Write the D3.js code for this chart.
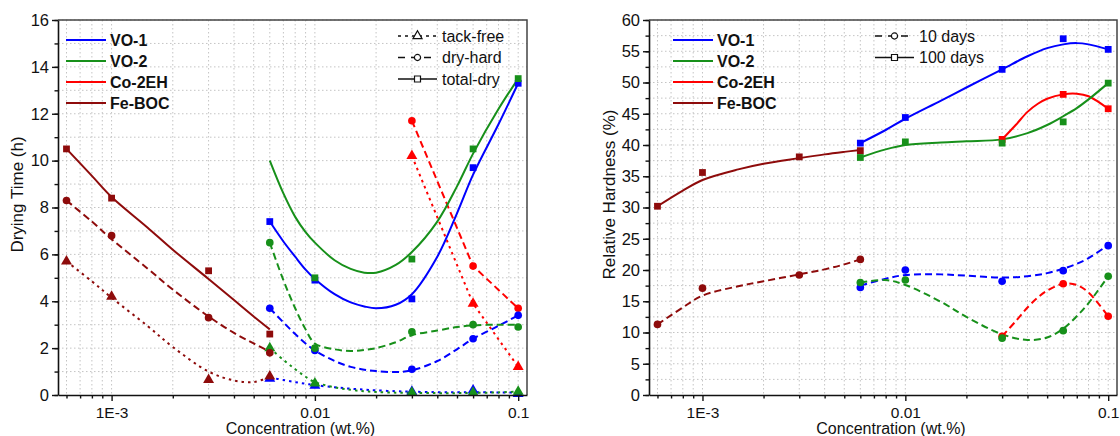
<!DOCTYPE html>
<html>
<head>
<meta charset="utf-8">
<script src="https://cdn.jsdelivr.net/npm/d3@7"></script>
<style>
  body { margin: 0; background: #fff; }
  svg { display: block; }
  text { font-family: Arial, "Liberation Sans", sans-serif; fill: #111; }
</style>
</head>
<body>
<svg id="chart" width="1120" height="436"></svg>
<script>
// ---------- data ----------
const seriesNames = ['VO-1', 'VO-2', 'Co-2EH', 'Fe-BOC'];
const xTickValues = [0.001, 0.01, 0.1];
const xTickLabels = ['1E-3', '0.01', '0.1'];

// concentrations (wt.%)
const feX = [0.0006, 0.001, 0.003, 0.006];
const voX = [0.006, 0.01, 0.03, 0.06, 0.1];
const coX = [0.03, 0.06, 0.1];

// drying time (h), measured points
const vo1Tack = [0.7, 0.4, 0.15, 0.2, 0.05];
const vo1Hard = [3.7, 1.9, 1.1, 2.4, 3.4];
const vo1Total = [7.4, 4.9, 4.1, 9.7, 13.3];
const vo2Tack = [2.0, 0.5, 0.1, 0.1, 0.15];
const vo2Hard = [6.5, 2.0, 2.7, 3.0, 2.9];
const vo2Total = [null, 5.0, 5.8, 10.5, 13.5];
const coTack = [10.2, 3.9, 1.2];
const coHard = [11.7, 5.5, 3.7];
const feTack = [5.7, 4.2, 0.65, 0.8];
const feHard = [8.3, 6.8, 3.3, 1.8];
const feTotal = [10.5, 8.4, 5.3, 2.6];

// drying time, fitted curves as drawn in the figure
const fitFeX = [0.0006, 0.0008, 0.001, 0.0015, 0.002, 0.003, 0.004, 0.005, 0.006];
const fitVoX = [0.006, 0.007, 0.008, 0.009, 0.01, 0.0125, 0.015, 0.0175, 0.02, 0.025, 0.03, 0.04, 0.05, 0.06, 0.08, 0.1];
const vo1TotalFit = [7.4, 6.55, 5.9, 5.35, 4.95, 4.3, 3.95, 3.78, 3.7, 3.85, 4.3, 5.9, 7.75, 9.4, 11.55, 13.3];
const vo2TotalFit = [10.0, 8.6, 7.6, 6.95, 6.5, 5.75, 5.38, 5.22, 5.22, 5.55, 6.1, 7.4, 8.9, 10.3, 12.2, 13.5];
const vo1HardFit = [3.7, 3.1, 2.6, 2.2, 1.9, 1.45, 1.2, 1.08, 1.02, 0.98, 1.05, 1.45, 1.95, 2.4, 2.95, 3.4];
const vo2HardFit = [6.5, 4.9, 3.7, 2.8, 2.2, 1.95, 1.88, 1.92, 2.0, 2.25, 2.55, 2.75, 2.9, 2.97, 3.0, 3.0];
const vo1TackFit = [0.75, 0.64, 0.55, 0.48, 0.42, 0.33, 0.27, 0.23, 0.2, 0.16, 0.14, 0.12, 0.12, 0.12, 0.11, 0.1];
const vo2TackFit = [2.0, 1.5, 1.1, 0.78, 0.55, 0.33, 0.22, 0.16, 0.13, 0.1, 0.09, 0.08, 0.08, 0.09, 0.11, 0.15];
const feTotalFit = [10.5, 9.35, 8.45, 7.15, 6.2, 4.95, 4.05, 3.35, 2.8];
const feHardFit = [8.3, 7.4, 6.65, 5.4, 4.5, 3.35, 2.65, 2.2, 1.85];
const feTackFit = [5.7, 4.85, 4.15, 2.95, 2.05, 1.0, 0.62, 0.55, 0.78];

// relative hardness (%), measured points
const vo1H10 = [17.2, 20.0, 18.2, 19.9, 23.9];
const vo1H100 = [40.3, 44.4, 52.1, 57.0, 55.3];
const vo2H10 = [18.0, 18.4, 9.1, 10.3, 19.0];
const vo2H100 = [38.0, 40.5, 40.3, 43.7, 49.9];
const coH10 = [9.4, 17.8, 12.6];
const coH100 = [40.9, 48.1, 45.8];
const feH10 = [11.3, 17.1, 19.2, 21.7];
const feH100 = [30.2, 35.6, 38.1, 39.1];

// relative hardness, fitted curves
const hardVoX = [0.006, 0.008, 0.01, 0.015, 0.02, 0.03, 0.04, 0.05, 0.06, 0.07, 0.08, 0.1];
const hardCoX = [0.03, 0.035, 0.04, 0.045, 0.05, 0.06, 0.07, 0.08, 0.1];
const vo1H100Fit = [40.3, 42.4, 44.2, 47.1, 49.2, 52.1, 54.2, 55.5, 56.1, 56.3, 56.1, 55.3];
const vo2H100Fit = [38.0, 39.3, 40.0, 40.4, 40.6, 40.9, 41.9, 43.2, 44.6, 45.9, 47.3, 49.9];
const vo1H10Fit = [17.5, 18.6, 19.2, 19.3, 19.1, 18.8, 19.0, 19.5, 20.2, 21.0, 21.9, 24.0];
const vo2H10Fit = [18.0, 18.4, 17.6, 14.9, 12.5, 9.7, 8.8, 9.2, 10.6, 12.6, 14.7, 19.0];
const coH100Fit = [40.9, 43.2, 45.3, 46.6, 47.4, 48.1, 48.2, 47.8, 45.8];
const coH10Fit = [9.4, 11.8, 14.0, 15.6, 16.7, 17.8, 17.6, 16.4, 12.6];
const feH100Fit = [30.2, 32.7, 34.4, 36.1, 37.0, 37.9, 38.5, 38.9, 39.2];
const feH10Fit = [11.3, 14.0, 15.9, 17.4, 18.2, 19.3, 20.1, 20.9, 21.7];

// ---------- styles ----------
const colors = { 'VO-1': '#0000ff', 'VO-2': '#17901a', 'Co-2EH': '#ff0000', 'Fe-BOC': '#8e0b0b' };
const styles = {
  tack:  { dash: '2.5,4', symbol: d3.symbolTriangle, size: 52 },
  hard:  { dash: '7,4',   symbol: d3.symbolCircle,   size: 46 },
  total: { dash: null,    symbol: d3.symbolSquare,   size: 46 },
};

const svg = d3.select('#chart');
const font = 'Arial, "Liberation Sans", sans-serif';

function drawPanel(p) {
  const g = svg.append('g');
  const x = d3.scaleLog().domain([0.000545, 0.1105]).range([p.x0, p.x1]);
  const y = d3.scaleLinear().domain([0, p.yMax]).range([p.y1, p.y0]);

  // grid
  const xMinor = x.ticks();
  const yMinor = d3.range(0, p.yMax + 0.001, p.yMinor);
  g.append('g').selectAll('line').data(xMinor).enter().append('line')
    .attr('x1', d => x(d)).attr('x2', d => x(d))
    .attr('y1', p.y0).attr('y2', p.y1)
    .attr('stroke', '#c4c4c4').attr('stroke-width', 1).attr('stroke-dasharray', '1.5,2.5');
  g.append('g').selectAll('line').data(yMinor.filter(d => d > 0)).enter().append('line')
    .attr('x1', p.x0).attr('x2', p.x1)
    .attr('y1', d => y(d)).attr('y2', d => y(d))
    .attr('stroke', '#c4c4c4').attr('stroke-width', 1).attr('stroke-dasharray', '1.5,2.5');

  // box top/right
  g.append('path')
    .attr('d', `M${p.x0},${p.y0}H${p.x1}V${p.y1}`)
    .attr('fill', 'none').attr('stroke', '#444').attr('stroke-width', 1.5);

  // lines
  const line = d3.line()
    .defined(d => d[1] != null)
    .x(d => x(d[0])).y(d => y(d[1]));
  p.series.forEach(s => {
    const st = styles[s.kind];
    g.append('path')
      .datum(s.fx.map((v, i) => [v, s.fy[i]]))
      .attr('d', line.curve(s.straight ? d3.curveLinear : d3.curveCatmullRom.alpha(0.5)))
      .attr('fill', 'none').attr('stroke', colors[s.name])
      .attr('stroke-width', 2)
      .attr('stroke-dasharray', st.dash);
  });

  // markers
  p.series.forEach(s => {
    const st = styles[s.kind];
    const pts = s.px.map((v, i) => [v, s.py[i]]).filter(d => d[1] != null);
    g.append('g').selectAll('path').data(pts).enter().append('path')
      .attr('d', d3.symbol().type(st.symbol).size(st.size))
      .attr('transform', d => `translate(${x(d[0])},${y(d[1])})`)
      .attr('fill', colors[s.name]);
  });

  // axes
  const xAxis = g.append('g').attr('transform', `translate(0,${p.y1})`)
    .call(d3.axisBottom(x).tickValues(xTickValues)
      .tickFormat((d, i) => xTickLabels[i]).tickSizeInner(6).tickSizeOuter(0).tickPadding(6));
  g.append('g').attr('transform', `translate(0,${p.y1})`)
    .call(d3.axisBottom(x).tickValues(xMinor.filter(d => !xTickValues.includes(d)))
      .tickFormat('').tickSizeInner(3.5).tickSizeOuter(0))
    .select('.domain').remove();
  xAxis.selectAll('text').style('font-size', '15.5px').style('font-family', font).attr('fill', '#111');

  const yAxis = g.append('g').attr('transform', `translate(${p.x0},0)`)
    .call(d3.axisLeft(y).tickValues(d3.range(0, p.yMax + 0.001, p.yMajor))
      .tickSizeInner(6).tickSizeOuter(0).tickPadding(3));
  g.append('g').attr('transform', `translate(${p.x0},0)`)
    .call(d3.axisLeft(y).tickValues(yMinor).tickFormat('').tickSizeInner(3.5).tickSizeOuter(0))
    .select('.domain').remove();
  yAxis.selectAll('text').style('font-size', '16.5px').style('font-family', font).attr('fill', '#111');
  [xAxis, yAxis].forEach(a => a.select('.domain').attr('stroke', '#111').attr('stroke-width', 1.6));
  g.selectAll('.tick line').attr('stroke', '#111').attr('stroke-width', 1.4);

  // axis titles
  g.append('text')
    .attr('x', (p.x0 + p.x1) / 2 + 8).attr('y', 434)
    .attr('text-anchor', 'middle').style('font-size', '16px')
    .text('Concentration (wt.%)');
  g.append('text')
    .attr('transform', `translate(${p.yLabelX},194.5) rotate(-90)`)
    .attr('text-anchor', 'middle').style('font-size', '17px')
    .text(p.yTitle);

  // color legend
  const leg = g.append('g');
  seriesNames.forEach((n, i) => {
    const yy = p.legend.y + i * 21;
    leg.append('line').attr('x1', p.legend.x).attr('x2', p.legend.x + 40)
      .attr('y1', yy).attr('y2', yy).attr('stroke', colors[n]).attr('stroke-width', 2);
    leg.append('text').attr('x', p.legend.x + 44).attr('y', yy).attr('dy', '0.36em')
      .style('font-size', '16px').style('font-weight', 'bold').text(n);
  });

  // line-type legend
  p.kinds.forEach((k, i) => {
    const st = styles[k.kind];
    const yy = p.kindLegend.y + i * 21.5;
    const x0 = p.kindLegend.x;
    leg.append('line').attr('x1', x0).attr('x2', x0 + 39)
      .attr('y1', yy).attr('y2', yy).attr('stroke', '#111').attr('stroke-width', 1.5)
      .attr('stroke-dasharray', k.kind === 'tack' ? '3,4' : (k.kind === 'hard' ? '7,6' : null));
    leg.append('path')
      .attr('d', d3.symbol().type(st.symbol).size(k.kind === 'hard' ? 30 : 36))
      .attr('transform', `translate(${x0 + 19.5},${yy})`)
      .attr('fill', '#fff').attr('stroke', '#111').attr('stroke-width', 1.2);
    leg.append('text').attr('x', x0 + 44).attr('y', yy).attr('dy', '0.36em')
      .style('font-size', '16px').text(k.label);
  });
}

// ---------- left panel: drying time ----------
drawPanel({
  x0: 58, x1: 527, y0: 20, y1: 395, yMax: 16, yMajor: 2, yMinor: 1,
  yTitle: 'Drying Time (h)', yLabelX: 23,
  legend: { x: 66, y: 40 }, kindLegend: { x: 398, y: 36 },
  kinds: [{ kind: 'tack', label: 'tack-free' }, { kind: 'hard', label: 'dry-hard' }, { kind: 'total', label: 'total-dry' }],
  series: [
    { name: 'Co-2EH', kind: 'tack', px: coX, py: coTack, fx: coX, fy: coTack, straight: true },
    { name: 'Co-2EH', kind: 'hard', px: coX, py: coHard, fx: coX, fy: coHard, straight: true },
    { name: 'VO-1', kind: 'tack', px: voX, py: vo1Tack, fx: fitVoX, fy: vo1TackFit },
    { name: 'VO-1', kind: 'hard', px: voX, py: vo1Hard, fx: fitVoX, fy: vo1HardFit },
    { name: 'VO-1', kind: 'total', px: voX, py: vo1Total, fx: fitVoX, fy: vo1TotalFit },
    { name: 'VO-2', kind: 'tack', px: voX, py: vo2Tack, fx: fitVoX, fy: vo2TackFit },
    { name: 'VO-2', kind: 'hard', px: voX, py: vo2Hard, fx: fitVoX, fy: vo2HardFit },
    { name: 'VO-2', kind: 'total', px: voX, py: vo2Total, fx: fitVoX, fy: vo2TotalFit },
    { name: 'Fe-BOC', kind: 'tack', px: feX, py: feTack, fx: fitFeX, fy: feTackFit },
    { name: 'Fe-BOC', kind: 'hard', px: feX, py: feHard, fx: fitFeX, fy: feHardFit },
    { name: 'Fe-BOC', kind: 'total', px: feX, py: feTotal, fx: fitFeX, fy: feTotalFit },
  ],
});

// ---------- right panel: relative hardness ----------
drawPanel({
  x0: 649, x1: 1117, y0: 20, y1: 395, yMax: 60, yMajor: 5, yMinor: 2.5,
  yTitle: 'Relative Hardness (%)', yLabelX: 615,
  legend: { x: 673, y: 40 }, kindLegend: { x: 875, y: 36 },
  kinds: [{ kind: 'hard', label: '10 days' }, { kind: 'total', label: '100 days' }],
  series: [
    { name: 'Co-2EH', kind: 'hard', px: coX, py: coH10, fx: hardCoX, fy: coH10Fit },
    { name: 'Co-2EH', kind: 'total', px: coX, py: coH100, fx: hardCoX, fy: coH100Fit },
    { name: 'VO-1', kind: 'hard', px: voX, py: vo1H10, fx: hardVoX, fy: vo1H10Fit },
    { name: 'VO-1', kind: 'total', px: voX, py: vo1H100, fx: hardVoX, fy: vo1H100Fit },
    { name: 'VO-2', kind: 'hard', px: voX, py: vo2H10, fx: hardVoX, fy: vo2H10Fit },
    { name: 'VO-2', kind: 'total', px: voX, py: vo2H100, fx: hardVoX, fy: vo2H100Fit },
    { name: 'Fe-BOC', kind: 'hard', px: feX, py: feH10, fx: fitFeX, fy: feH10Fit },
    { name: 'Fe-BOC', kind: 'total', px: feX, py: feH100, fx: fitFeX, fy: feH100Fit },
  ],
});
</script>
</body>
</html>
